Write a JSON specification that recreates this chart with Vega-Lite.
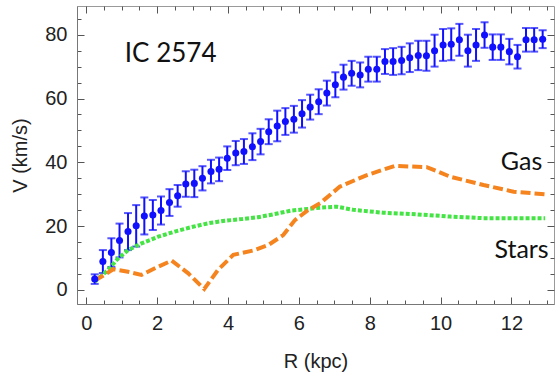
{
  "$schema": "https://vega.github.io/schema/vega-lite/v6.json",
  "width": 477,
  "height": 298,
  "autosize": "none",
  "padding": {"left": 77, "top": 6, "right": 3, "bottom": 70},
  "background": "white",
  "config": {
    "view": {"stroke": "#9a9a9a", "strokeWidth": 1},
    "axis": {"grid": false, "labelFont": "Liberation Sans", "titleFont": "Liberation Sans", "labelFontSize": 20, "titleFontSize": 20, "titleFontWeight": "normal", "labelColor": "#222", "titleColor": "#222", "domainColor": "#777", "tickColor": "#555", "tickWidth": 1, "labelOverlap": false}
  },
  "datasets": {
    "rot": [
      {"R":0.24,"V":3.4,"err":1.5},{"R":0.47,"V":8.9,"err":3.6},{"R":0.71,"V":11.7,"err":4.5},{"R":0.94,"V":15.5,"err":5.3},
      {"R":1.18,"V":18.3,"err":5.8},{"R":1.41,"V":20.1,"err":6.5},{"R":1.64,"V":23.2,"err":5.8},{"R":1.88,"V":23.5,"err":4.7},
      {"R":2.11,"V":24.9,"err":4.4},{"R":2.35,"V":27.4,"err":4.2},{"R":2.58,"V":29.5,"err":3.4},{"R":2.81,"V":33.2,"err":4.0},
      {"R":3.05,"V":33.4,"err":4.3},{"R":3.28,"V":35.0,"err":3.8},{"R":3.52,"V":37.1,"err":3.7},{"R":3.75,"V":37.8,"err":3.7},
      {"R":3.98,"V":41.3,"err":3.7},{"R":4.22,"V":42.9,"err":3.8},{"R":4.45,"V":43.4,"err":3.9},{"R":4.69,"V":44.9,"err":4.2},
      {"R":4.92,"V":46.5,"err":4.0},{"R":5.15,"V":49.6,"err":3.9},{"R":5.39,"V":51.4,"err":4.8},{"R":5.62,"V":52.8,"err":4.2},
      {"R":5.86,"V":53.5,"err":4.2},{"R":6.09,"V":55.2,"err":4.3},{"R":6.32,"V":57.3,"err":3.9},{"R":6.56,"V":59.0,"err":3.9},
      {"R":6.79,"V":61.7,"err":3.9},{"R":7.03,"V":64.3,"err":3.9},{"R":7.26,"V":66.7,"err":3.9},{"R":7.49,"V":67.9,"err":3.9},
      {"R":7.73,"V":67.4,"err":3.9},{"R":7.96,"V":69.2,"err":3.9},{"R":8.20,"V":69.2,"err":3.9},{"R":8.43,"V":71.6,"err":3.9},
      {"R":8.66,"V":71.6,"err":4.2},{"R":8.90,"V":71.9,"err":4.3},{"R":9.13,"V":72.8,"err":4.5},{"R":9.37,"V":73.5,"err":4.6},
      {"R":9.60,"V":73.4,"err":4.7},{"R":9.83,"V":75.0,"err":5.0},{"R":10.07,"V":76.8,"err":5.0},{"R":10.30,"V":77.0,"err":5.0},
      {"R":10.53,"V":78.4,"err":5.0},{"R":10.77,"V":75.0,"err":5.0},{"R":11.00,"V":76.8,"err":5.0},{"R":11.24,"V":79.9,"err":4.0},
      {"R":11.47,"V":76.1,"err":4.0},{"R":11.70,"V":76.1,"err":4.0},{"R":11.94,"V":74.7,"err":4.0},{"R":12.17,"V":73.1,"err":3.7},
      {"R":12.41,"V":78.4,"err":3.7},{"R":12.64,"V":78.4,"err":3.7},{"R":12.88,"V":78.6,"err":2.8}
    ],
    "stars": [
      {"R":0.24,"V":2.6},{"R":0.62,"V":6.3},{"R":0.90,"V":9.9},{"R":1.18,"V":12.5},{"R":1.56,"V":14.6},{"R":2.03,"V":16.7},
      {"R":2.50,"V":18.3},{"R":2.97,"V":19.7},{"R":3.44,"V":20.9},{"R":3.91,"V":21.7},{"R":4.38,"V":22.2},{"R":4.85,"V":22.8},
      {"R":5.32,"V":23.8},{"R":5.80,"V":24.9},{"R":6.27,"V":25.4},{"R":6.60,"V":25.8},{"R":7.07,"V":26.1},{"R":7.54,"V":25.1},
      {"R":8.38,"V":24.2},{"R":9.33,"V":23.7},{"R":10.27,"V":23.0},{"R":11.21,"V":22.5},{"R":12.15,"V":22.5},{"R":12.95,"V":22.5}
    ],
    "gas": [
      {"R":0.24,"V":3.0},{"R":0.52,"V":4.7},{"R":0.76,"V":6.5},{"R":1.18,"V":5.7},{"R":1.56,"V":4.7},{"R":2.03,"V":7.3},
      {"R":2.41,"V":9.2},{"R":2.88,"V":5.2},{"R":3.33,"V":0.3},{"R":3.72,"V":6.3},{"R":4.15,"V":11.0},{"R":4.76,"V":12.5},
      {"R":5.14,"V":14.1},{"R":5.56,"V":17.2},{"R":5.89,"V":21.9},{"R":6.27,"V":25.1},{"R":6.60,"V":27.2},{"R":7.16,"V":32.4},
      {"R":7.92,"V":36.0},{"R":8.71,"V":38.9},{"R":9.61,"V":38.5},{"R":10.27,"V":35.5},{"R":11.21,"V":32.9},{"R":12.06,"V":30.8},
      {"R":12.95,"V":30.0}
    ],
    "lab1": [{"R":1.09,"V":71.5,"t":"IC 2574"}],
    "lab2": [{"R":12.87,"V":37.6,"t":"Gas"},{"R":13.05,"V":10.0,"t":"Stars"}]
  },
  "resolve": {"axis": {"x": "independent", "y": "independent"}},
  "layer": [
    {
      "data": {"name": "rot"},
      "mark": {"type": "errorbar", "ticks": {"size": 8, "color": "#1010ff", "strokeWidth": 2}, "color": "#1010ff", "thickness": 2},
      "encoding": {
        "x": {"field": "R", "type": "quantitative", "scale": {"domain": [-0.26, 13.2], "nice": false, "zero": false},
          "axis": {"orient": "bottom", "title": "R (kpc)", "titlePadding": 15,
            "values": [0,0.5,1,1.5,2,2.5,3,3.5,4,4.5,5,5.5,6,6.5,7,7.5,8,8.5,9,9.5,10,10.5,11,11.5,12,12.5,13],
            "tickSize": {"condition": {"test": "datum.value % 2 === 0", "value": -7}, "value": -4},
            "labelExpr": "datum.value % 2 === 0 ? format(datum.value, 'd') : ''", "labelPadding": 16}},
        "y": {"field": "V", "type": "quantitative", "scale": {"domain": [-4.4, 89], "nice": false, "zero": false},
          "axis": {"orient": "left", "title": "V (km/s)", "titlePadding": 14,
            "values": [0,5,10,15,20,25,30,35,40,45,50,55,60,65,70,75,80,85],
            "tickSize": {"condition": {"test": "datum.value % 20 === 0", "value": -7}, "value": -4},
            "labelExpr": "datum.value % 20 === 0 ? format(datum.value, 'd') : ''", "labelPadding": 17}},
        "yError": {"field": "err"}
      }
    },
    {
      "data": {"name": "stars"},
      "mark": {"type": "line", "color": "#44e444", "strokeWidth": 4, "strokeDash": [4, 2]},
      "encoding": {
        "x": {"field": "R", "type": "quantitative", "scale": {"domain": [-0.26, 13.2], "nice": false, "zero": false},
          "axis": {"orient": "top", "title": null, "labels": false, "domain": false,
            "values": [0,0.5,1,1.5,2,2.5,3,3.5,4,4.5,5,5.5,6,6.5,7,7.5,8,8.5,9,9.5,10,10.5,11,11.5,12,12.5,13],
            "tickSize": {"condition": {"test": "datum.value % 2 === 0", "value": -7}, "value": -4}}},
        "y": {"field": "V", "type": "quantitative", "scale": {"domain": [-4.4, 89], "nice": false, "zero": false},
          "axis": {"orient": "right", "title": null, "labels": false, "domain": false,
            "values": [0,5,10,15,20,25,30,35,40,45,50,55,60,65,70,75,80,85],
            "tickSize": {"condition": {"test": "datum.value % 20 === 0", "value": -7}, "value": -4}}}
      }
    },
    {
      "data": {"name": "gas"},
      "mark": {"type": "line", "color": "#f5841f", "strokeWidth": 4, "strokeDash": [10, 4]},
      "encoding": {
        "x": {"field": "R", "type": "quantitative", "scale": {"domain": [-0.26, 13.2], "nice": false, "zero": false}, "axis": null},
        "y": {"field": "V", "type": "quantitative", "scale": {"domain": [-4.4, 89], "nice": false, "zero": false}, "axis": null}
      }
    },
    {
      "data": {"name": "rot"},
      "mark": {"type": "point", "filled": true, "shape": "circle", "color": "#1010ff", "size": 50, "opacity": 1},
      "encoding": {
        "x": {"field": "R", "type": "quantitative", "scale": {"domain": [-0.26, 13.2], "nice": false, "zero": false}, "axis": null},
        "y": {"field": "V", "type": "quantitative", "scale": {"domain": [-4.4, 89], "nice": false, "zero": false}, "axis": null}
      }
    },
    {
      "data": {"name": "lab1"},
      "mark": {"type": "text", "align": "left", "baseline": "alphabetic", "font": "Lato", "fontSize": 26, "color": "#111"},
      "encoding": {
        "x": {"field": "R", "type": "quantitative", "scale": {"domain": [-0.26, 13.2], "nice": false, "zero": false}, "axis": null},
        "y": {"field": "V", "type": "quantitative", "scale": {"domain": [-4.4, 89], "nice": false, "zero": false}, "axis": null},
        "text": {"field": "t"}
      }
    },
    {
      "data": {"name": "lab2"},
      "mark": {"type": "text", "align": "right", "baseline": "alphabetic", "font": "Lato", "fontSize": 25, "color": "#111"},
      "encoding": {
        "x": {"field": "R", "type": "quantitative", "scale": {"domain": [-0.26, 13.2], "nice": false, "zero": false}, "axis": null},
        "y": {"field": "V", "type": "quantitative", "scale": {"domain": [-4.4, 89], "nice": false, "zero": false}, "axis": null},
        "text": {"field": "t"}
      }
    }
  ]
}
